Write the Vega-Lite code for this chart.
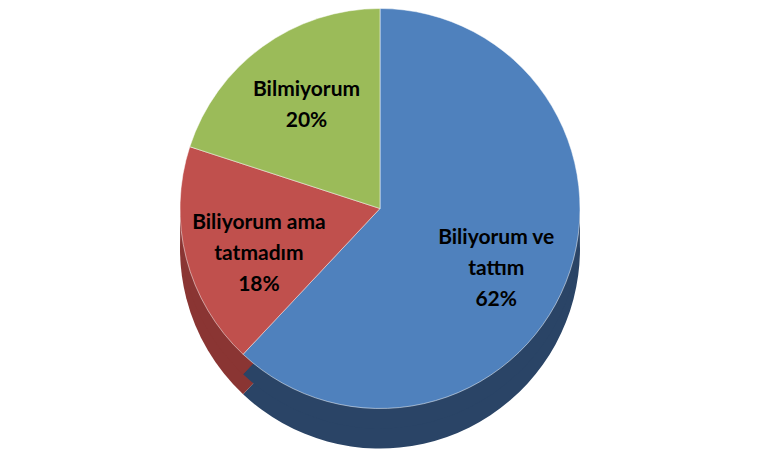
{
  "$schema": "https://vega.github.io/schema/vega-lite/v6.json",
  "width": 760,
  "height": 453,
  "autosize": {"type": "fit", "contains": "padding"},
  "padding": 0,
  "background": "white",
  "view": {"stroke": null},
  "data": {
    "values": [
      {"cat": "Biliyorum ve tattım", "label": "Biliyorum ve\ntattım\n62%", "value": 62, "order": 1},
      {"cat": "Biliyorum ama tatmadım", "label": "Biliyorum ama\ntatmadım\n18%", "value": 18, "order": 2},
      {"cat": "Bilmiyorum", "label": "Bilmiyorum\n20%", "value": 20, "order": 3}
    ]
  },
  "encoding": {
    "theta": {"field": "value", "type": "quantitative", "stack": true},
    "order": {"field": "order", "type": "quantitative"}
  },
  "layer": [
    {
      "mark": {"type": "arc", "outerRadius": 200, "yOffset": 22},
      "encoding": {
        "color": {
          "field": "cat", "type": "nominal", "legend": null,
          "scale": {"domain": ["Biliyorum ve tattım", "Biliyorum ama tatmadım", "Bilmiyorum"], "range": ["#2a4466", "#8a3533", "#6f8a3c"]}
        }
      }
    },
    {
      "mark": {"type": "arc", "outerRadius": 200, "yOffset": 2},
      "encoding": {
        "color": {
          "field": "cat", "type": "nominal", "legend": null,
          "scale": {"domain": ["Biliyorum ve tattım", "Biliyorum ama tatmadım", "Bilmiyorum"], "range": ["#2a4466", "#8a3533", "#6f8a3c"]}
        }
      }
    },
    {
      "mark": {"type": "arc", "outerRadius": 200, "yOffset": -18, "stroke": "white", "strokeWidth": 0.5},
      "encoding": {
        "fill": {
          "field": "cat", "type": "nominal", "legend": null,
          "scale": {"domain": ["Biliyorum ve tattım", "Biliyorum ama tatmadım", "Bilmiyorum"], "range": ["#4f81bd", "#c0504d", "#9bbb59"]}
        }
      }
    },
    {
      "mark": {"type": "text", "radius": 125, "yOffset": -35, "font": "Lato", "fontWeight": "bold", "fontSize": 21, "lineBreak": "\n", "lineHeight": 31, "color": "#000000"},
      "encoding": {"text": {"field": "label", "type": "nominal"}}
    }
  ],
  "resolve": {"scale": {"color": "independent", "fill": "independent"}}
}
